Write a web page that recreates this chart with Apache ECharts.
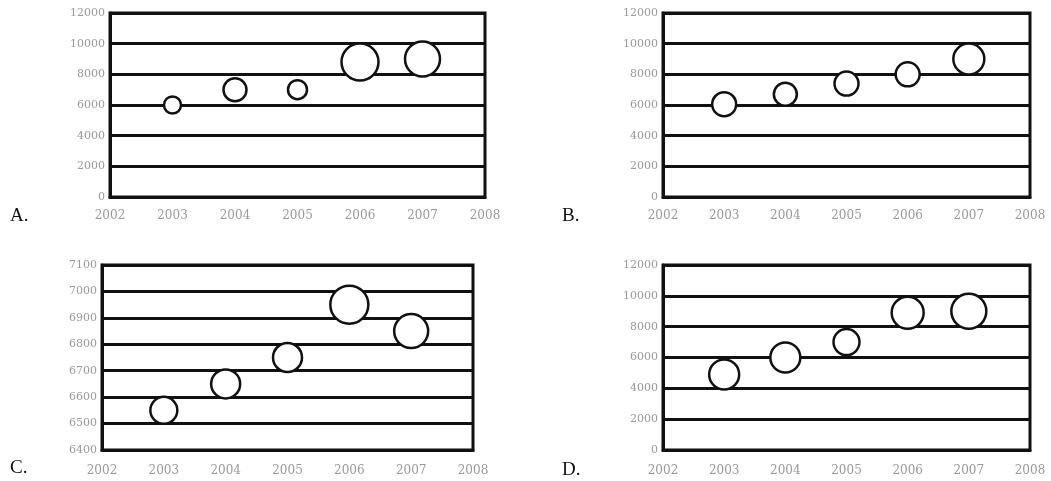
<!DOCTYPE html>
<html>
<head>
<meta charset="utf-8">
<script src="https://cdn.jsdelivr.net/npm/echarts@6/dist/echarts.min.js"></script>
<style>html,body{margin:0;padding:0;background:#fff}#c{width:1051px;height:481px}</style>
</head>
<body>
<div id="c"></div>
<script>
const years = [2003, 2004, 2005, 2006, 2007];
const xTicks = [2002, 2003, 2004, 2005, 2006, 2007, 2008];
const panelLabels = ['A.', 'B.', 'C.', 'D.'];

const aValues = [6000, 7000, 7000, 8800, 9000];
const aBubble = [17, 23, 19, 37, 35];

const bValues = [6050, 6700, 7400, 8000, 9000];
const bBubble = [24, 23, 24, 24, 31];

const cValues = [6550, 6650, 6750, 6950, 6850];
const cBubble = [27, 29, 29, 38, 34];

const dValues = [4900, 6000, 7000, 8900, 9000];
const dBubble = [30, 30, 26, 32, 35];

const yRanges = [[0, 12000, 2000], [0, 12000, 2000], [6400, 7100, 100], [0, 12000, 2000]];

const grids = [
  {left: 110, top: 13, width: 375, height: 184},
  {left: 663, top: 13, width: 367, height: 184},
  {left: 102, top: 265, width: 371, height: 185},
  {left: 663, top: 265, width: 367, height: 185}
];
const labelPos = [[10, 217], [562, 217], [10, 469], [562, 471]];

const allValues = [aValues, bValues, cValues, dValues];
const allBubble = [aBubble, bBubble, cBubble, dBubble];

const fontSerif = '"DejaVu Serif","Liberation Serif",serif';
const fontLetter = '"Liberation Serif","DejaVu Serif",serif';
const labelColor = '#999';

const option = {
  animation: false,
  backgroundColor: '#fff',
  grid: grids.map(g => Object.assign({show: true, borderColor: '#111', borderWidth: 3, backgroundColor: 'transparent'}, g)),
  xAxis: grids.map((g, i) => ({
    type: 'value', gridIndex: i, min: xTicks[0], max: xTicks[xTicks.length - 1], interval: 1,
    axisLine: {show: true, lineStyle: {color: '#111', width: 3}},
    axisTick: {show: false},
    splitLine: {show: false},
    axisLabel: {color: labelColor, fontFamily: fontSerif, fontSize: 12, margin: i < 2 ? 13 : 15, formatter: v => String(v)}
  })),
  yAxis: grids.map((g, i) => ({
    type: 'value', gridIndex: i, min: yRanges[i][0], max: yRanges[i][1], interval: yRanges[i][2],
    axisLine: {show: true, lineStyle: {color: '#111', width: 3}},
    axisTick: {show: false},
    splitLine: {show: true, lineStyle: {color: '#111', width: 3}},
    axisLabel: {color: labelColor, fontFamily: fontSerif, fontSize: 11, margin: 5, formatter: v => String(v)}
  })),
  series: allValues.map((vals, i) => ({
    type: 'scatter', xAxisIndex: i, yAxisIndex: i,
    data: years.map((y, k) => [y, vals[k], allBubble[i][k]]),
    symbol: 'circle',
    symbolSize: d => d[2],
    itemStyle: {color: '#fff', borderColor: '#111', borderWidth: 2.5, opacity: 1},
    z: 5
  })),
  graphic: panelLabels.map((t, i) => ({
    type: 'text', left: labelPos[i][0], top: labelPos[i][1] - 10,
    style: {text: t, fontFamily: fontLetter, fontSize: 19, fill: '#111'}
  }))
};

const chart = echarts.init(document.getElementById('c'));
chart.setOption(option);
</script>
</body>
</html>
